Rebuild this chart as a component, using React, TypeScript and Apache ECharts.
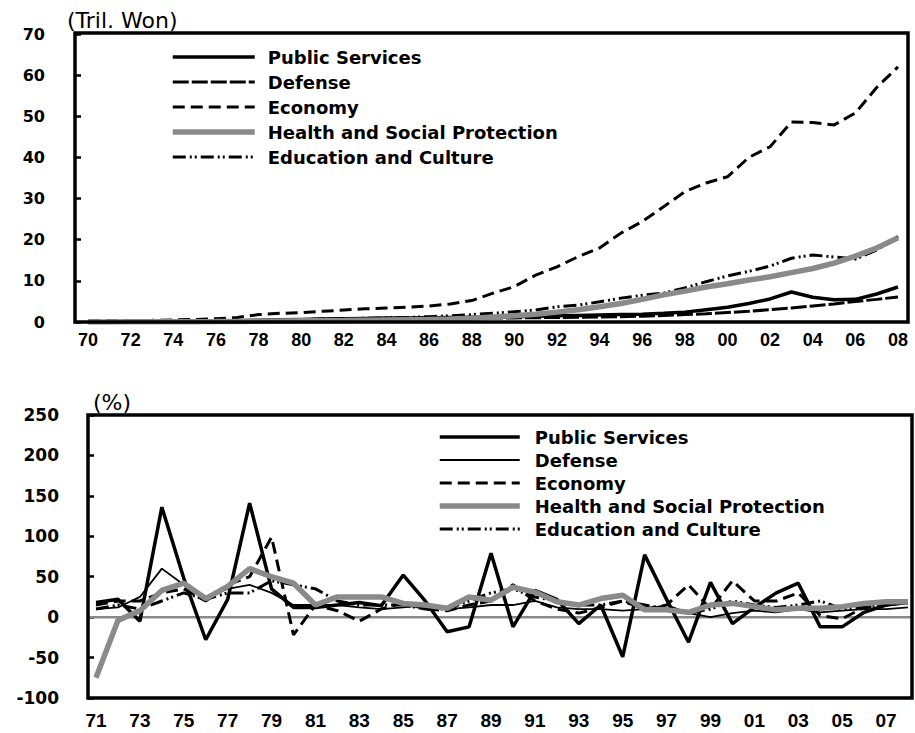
import React, { useEffect, useRef } from 'react';
import * as echarts from 'echarts';

// ---------- Data ----------
const levelYears = ['70','71','72','73','74','75','76','77','78','79','80','81','82','83','84','85','86','87','88','89','90','91','92','93','94','95','96','97','98','99','00','01','02','03','04','05','06','07','08'];
const growthYears = ['71','72','73','74','75','76','77','78','79','80','81','82','83','84','85','86','87','88','89','90','91','92','93','94','95','96','97','98','99','00','01','02','03','04','05','06','07','08'];

const seriesNames = ['Public Services', 'Defense', 'Economy', 'Health and Social Protection', 'Education and Culture'];

// Levels (trillion won), 1970-2008
const publicLevel = [0.05,0.06,0.08,0.1,0.13,0.18,0.24,0.32,0.42,0.52,0.62,0.72,0.8,0.88,0.95,1.0,1.05,1.1,1.15,1.2,1.3,1.4,1.5,1.6,1.7,1.8,1.9,2.1,2.4,3.0,3.6,4.5,5.6,7.3,6.0,5.4,5.5,6.8,8.5];
const defenseLevel = [0.03,0.04,0.05,0.07,0.09,0.12,0.16,0.22,0.3,0.38,0.45,0.52,0.58,0.64,0.7,0.75,0.8,0.85,0.9,0.95,1.0,1.05,1.1,1.15,1.2,1.3,1.4,1.6,1.8,2.0,2.3,2.6,3.0,3.4,3.9,4.4,5.0,5.5,6.1];
const economyLevel = [0.25,0.3,0.35,0.4,0.5,0.6,0.8,1.1,1.8,2.1,2.3,2.6,2.9,3.2,3.4,3.6,3.9,4.4,5.2,7.0,8.6,11.4,13.4,15.9,18.0,21.6,24.4,28.0,31.7,33.8,35.3,40.0,42.6,48.6,48.5,47.9,50.8,57.0,62.0];
const healthLevel = [0.02,0.03,0.04,0.05,0.07,0.09,0.1,0.12,0.18,0.25,0.3,0.33,0.38,0.45,0.5,0.55,0.6,0.7,0.9,1.2,1.5,1.9,2.4,3.0,3.7,4.5,5.5,6.6,7.5,8.5,9.3,10.2,11.0,12.0,13.0,14.3,16.0,18.0,20.5];
const educationLevel = [0.05,0.07,0.09,0.12,0.16,0.2,0.25,0.3,0.38,0.48,0.6,0.7,0.8,0.9,1.0,1.1,1.3,1.5,1.8,2.1,2.5,2.9,3.7,4.1,4.9,5.8,6.5,7.0,8.3,9.8,11.2,12.3,13.6,15.5,16.3,15.8,15.3,17.5,20.8];

// Growth rates (%), 1971-2008
const publicGrowth = [18,22,-5,136,48,-28,22,141,35,12,12,15,18,14,52,20,-18,-12,79,-12,33,22,-8,15,-49,77,22,-31,43,-8,12,30,42,-12,-12,6,15,18];
const defenseGrowth = [10,12,25,60,40,25,35,40,30,15,15,15,12,10,12,15,10,12,15,15,20,12,10,10,8,10,15,5,0,5,8,6,10,6,8,10,10,12];
const economyGrowth = [15,20,20,30,35,20,40,50,99,-22,15,8,-5,10,18,10,8,15,20,40,20,10,5,12,20,10,15,40,10,45,20,20,30,2,-2,12,15,20];
const healthGrowth = [-75,-4,8,33,42,23,38,60,50,42,15,25,25,25,17,15,11,25,21,37,31,19,15,23,27,9,9,6,15,17,13,9,11,11,13,17,19,19];
const educationGrowth = [10,15,10,20,30,22,30,30,45,40,35,20,15,15,15,10,10,20,30,35,25,20,15,15,20,15,10,5,10,20,15,12,15,20,10,12,15,18];

const levelTicksMin = 0, levelTicksMax = 70, levelTicksStep = 10;
const growthTicksMin = -100, growthTicksMax = 250, growthTicksStep = 50;

// ---------- Styles ----------
const GRAY = '#8a8a8a';
const topStyles = [
  { color: '#000', width: 3.5, type: 'solid' as any },
  { color: '#000', width: 3, type: [16, 3] as any },
  { color: '#000', width: 3, type: [12, 6] as any },
  { color: GRAY, width: 5.5, type: 'solid' as any },
  { color: '#000', width: 3, type: [13, 4, 2, 3, 2, 4] as any },
];
const bottomStyles = [
  { color: '#000', width: 3.5, type: 'solid' as any },
  { color: '#000', width: 1.8, type: 'solid' as any },
  { color: '#000', width: 3, type: [12, 6] as any },
  { color: GRAY, width: 5.5, type: 'solid' as any },
  { color: '#000', width: 3, type: [13, 4, 2, 3, 2, 4] as any },
];

const levelData = [publicLevel, defenseLevel, economyLevel, healthLevel, educationLevel];
const growthData = [publicGrowth, defenseGrowth, economyGrowth, healthGrowth, educationGrowth];

const legendText = {
  fontFamily: 'DejaVu Sans',
  fontWeight: 'bold' as any,
  fontSize: 18,
  color: '#000',
  lineHeight: 18,
};

function buildGraphic(y0: number | null) {
  const els: any[] = [
    {
      id: 'unitTop', type: 'text', left: 67, top: 9,
      style: { text: '(Tril. Won)', fontFamily: 'DejaVu Sans', fontSize: 22, fill: '#000' },
    },
    {
      id: 'unitBottom', type: 'text', left: 93, top: 391,
      style: { text: '(%)', fontFamily: 'DejaVu Sans', fontSize: 22, fill: '#000' },
    },
    {
      id: 'borderTop', type: 'rect', z: 50,
      shape: { x: 75, y: 33, width: 833, height: 289 },
      style: { fill: 'none', stroke: '#000', lineWidth: 3.5 },
    },
    {
      id: 'borderBottom', type: 'rect', z: 50,
      shape: { x: 88, y: 415, width: 824, height: 283 },
      style: { fill: 'none', stroke: '#000', lineWidth: 3.5 },
    },
  ];
  if (y0 !== null) {
    els.push({
      id: 'zeroLine', type: 'line', z: 1,
      shape: { x1: 88, y1: y0, x2: 912, y2: y0 },
      style: { stroke: GRAY, lineWidth: 2.5 },
    });
  }
  return els;
}

export default function App() {
  const ref = useRef<HTMLDivElement>(null);
  useEffect(() => {
    document.body.style.margin = '0';
    if (!ref.current) return;
    const chart = echarts.init(ref.current, null, { renderer: 'svg', width: 915, height: 733 });

    const series: any[] = [];
    seriesNames.forEach((name, i) => {
      series.push({
        name, type: 'line', xAxisIndex: 0, yAxisIndex: 0,
        data: levelData[i], symbol: 'none', showSymbol: false,
        lineStyle: topStyles[i], itemStyle: { color: topStyles[i].color },
        z: i === 3 ? 3 : 2,
      });
    });
    seriesNames.forEach((name, i) => {
      series.push({
        name, type: 'line', xAxisIndex: 1, yAxisIndex: 1,
        data: growthData[i], symbol: 'none', showSymbol: false,
        lineStyle: bottomStyles[i], itemStyle: { color: bottomStyles[i].color },
        z: i === 3 ? 3 : 2,
      });
    });

    const yLabel = (size: number, margin: number) => ({
      margin, fontFamily: 'DejaVu Sans', fontWeight: 'bold', fontSize: size, color: '#000',
    });
    const xLabel = (size: number, margin: number) => ({
      interval: 1, margin, fontFamily: 'Liberation Sans', fontWeight: 'bold', fontSize: size, color: '#000',
    });

    const option: any = {
      animation: false,
      backgroundColor: '#fff',
      grid: [
        { left: 88, right: 17, top: 34, bottom: 411 },
        { left: 96, right: 7, top: 415, bottom: 35 },
      ],
      xAxis: [
        {
          type: 'category', gridIndex: 0, data: levelYears, boundaryGap: false,
          axisLine: { show: false }, axisTick: { show: false }, splitLine: { show: false },
          axisLabel: xLabel(18, 9),
        },
        {
          type: 'category', gridIndex: 1, data: growthYears, boundaryGap: false,
          axisLine: { show: false }, axisTick: { show: false }, splitLine: { show: false },
          axisLabel: xLabel(19, 13),
        },
      ],
      yAxis: [
        {
          type: 'value', gridIndex: 0, min: levelTicksMin, max: levelTicksMax, interval: levelTicksStep,
          offset: 13, axisLine: { show: false }, splitLine: { show: false },
          axisTick: { show: true, inside: true, length: 6, lineStyle: { color: '#000', width: 2.5 } },
          axisLabel: yLabel(16, 30),
        },
        {
          type: 'value', gridIndex: 1, min: growthTicksMin, max: growthTicksMax, interval: growthTicksStep,
          offset: 8, axisLine: { show: false }, splitLine: { show: false },
          axisTick: { show: true, inside: true, length: 6, lineStyle: { color: '#000', width: 2.5 } },
          axisLabel: yLabel(17, 29),
        },
      ],
      legend: [
        {
          orient: 'vertical', left: 170, top: 48, padding: 0,
          itemWidth: 82, itemHeight: 14, itemGap: 7, selectedMode: false,
          textStyle: { ...legendText, padding: [0, 0, 0, 8] },
          data: seriesNames.map((name, i) => ({ name, lineStyle: topStyles[i], itemStyle: { opacity: 0 } })),
        },
        {
          orient: 'vertical', left: 437, top: 428, padding: 0,
          itemWidth: 80, itemHeight: 14, itemGap: 5, selectedMode: false,
          textStyle: { ...legendText, padding: [0, 0, 0, 10] },
          data: seriesNames.map((name, i) => ({ name, lineStyle: bottomStyles[i], itemStyle: { opacity: 0 } })),
        },
      ],
      graphic: buildGraphic(null),
      series,
    };
    chart.setOption(option);
    const y0 = chart.convertToPixel({ yAxisIndex: 1 }, 0) as unknown as number;
    chart.setOption({ graphic: buildGraphic(typeof y0 === 'number' ? y0 : null) });
    return () => chart.dispose();
  }, []);
  return <div ref={ref} style={{ width: 915, height: 733 }} />;
}
